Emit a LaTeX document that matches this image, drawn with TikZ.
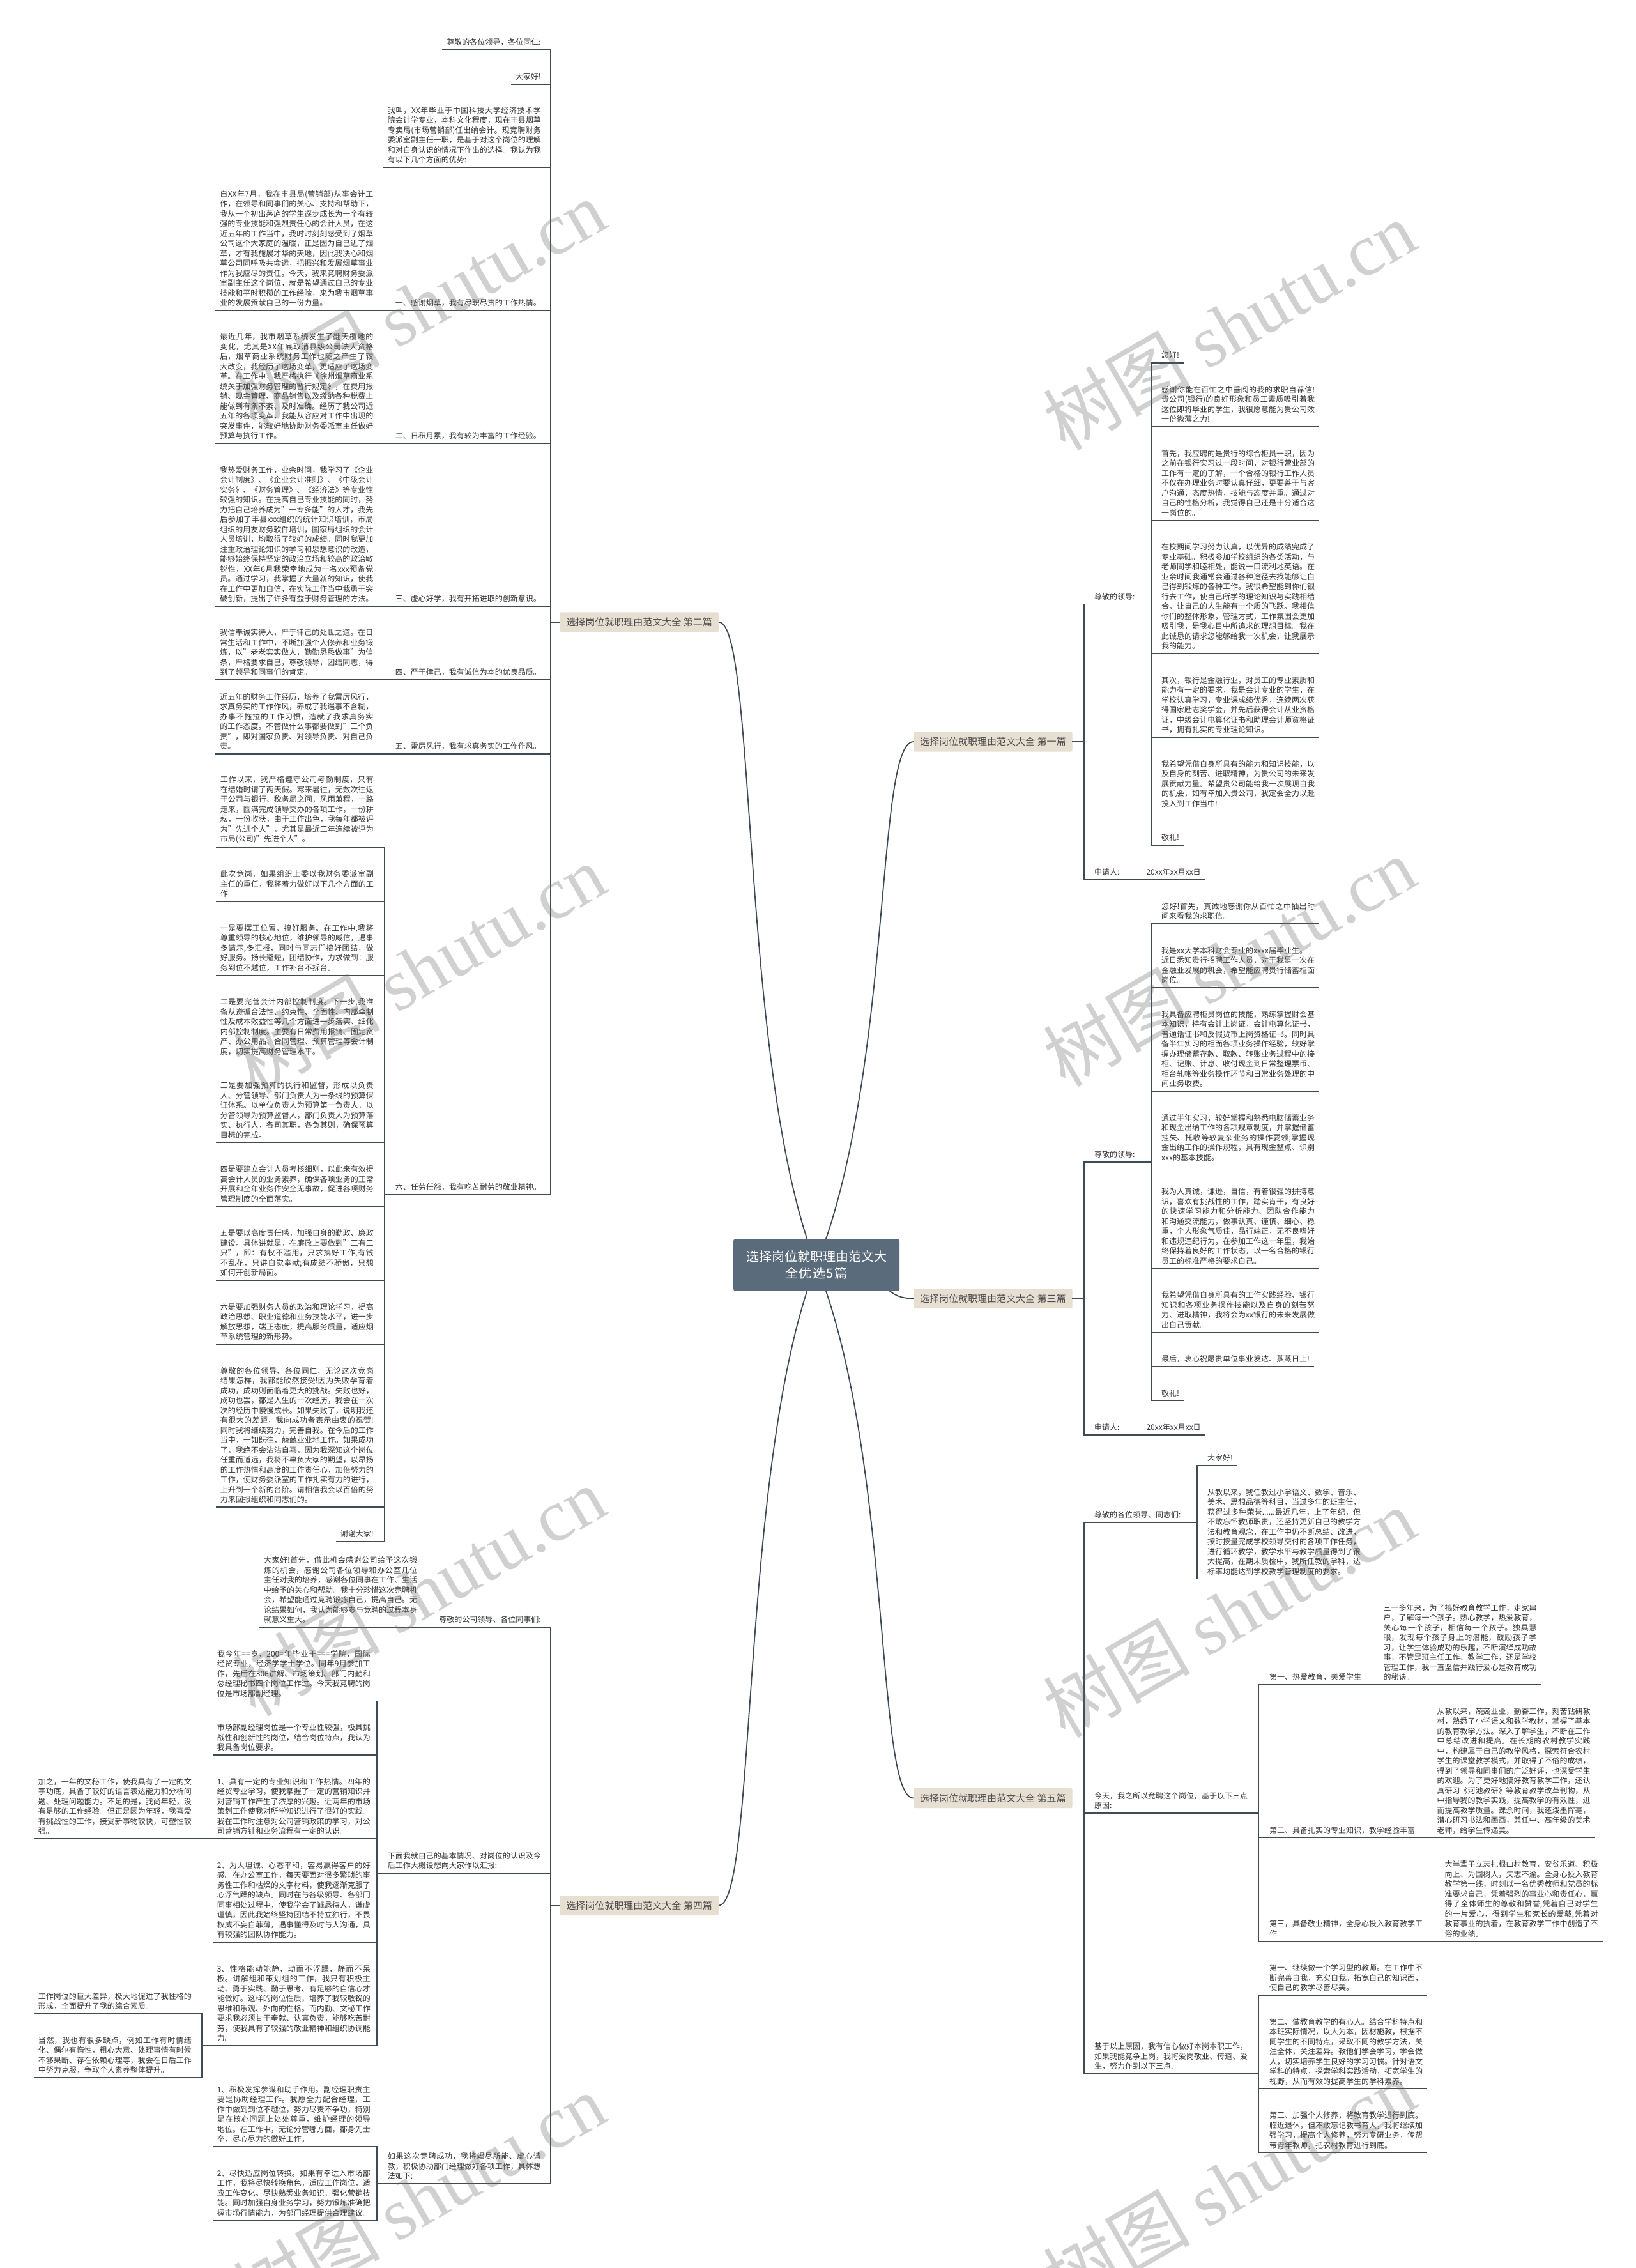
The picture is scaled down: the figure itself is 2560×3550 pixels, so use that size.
\documentclass[tikz,border=0pt]{standalone}
\usepackage{fontspec}
\setmainfont{Noto Sans CJK SC}
\newfontfamily\wmlatin{Liberation Serif}
\XeTeXlinebreaklocale "zh"
\XeTeXlinebreakskip=0pt plus 1pt
\usetikzlibrary{calc}
\definecolor{lnC}{HTML}{3E4A56}
\definecolor{txtC}{HTML}{333333}
\definecolor{brFill}{HTML}{E8DFD3}
\definecolor{brText}{HTML}{4D4D4D}
\definecolor{rootFill}{HTML}{5A6B7B}
\newcommand{\txtf}{\fontsize{12}{15.5}\selectfont}
\newcommand{\brf}{\fontsize{15}{18}\selectfont}
\newcommand{\rootf}{\fontsize{20}{26}\selectfont}
\newcommand{\wmf}{\fontsize{115}{115}\selectfont}

\begin{document}
\begin{tikzpicture}[x=1pt,y=-1pt,
  para/.style={inner xsep=6pt,inner ysep=6pt,text width=240pt,align=justify,font=\txtf,text=txtC},
  lbl/.style={inner xsep=6pt,inner ysep=6pt,font=\txtf,text=txtC},
  brn/.style={fill=brFill,text=brText,font=\brf,inner xsep=10pt,inner ysep=0pt,minimum height=31pt,rounded corners=2pt},
  root/.style={fill=rootFill,text=white,font=\rootf,text width=220pt,align=center,inner xsep=20pt,minimum height=81pt,rounded corners=3pt},
  uln/.style={draw=lnC,line width=1.6pt,line cap=rect},
  curve/.style={draw=lnC,line width=1.8pt},
  wmark/.style={rotate=30,text=black!60,opacity=0.3,font=\wmf}]
\fill[white] (0,0) rectangle (2560,3550);
\useasboundingbox (0,0) rectangle (2560,3550);

% columns of the connector lines
\coordinate (b2v) at (862,0);
\coordinate (b2w) at (602,0);
\coordinate (b4w) at (590,0);
\coordinate (b4x) at (316,0);
\coordinate (rv) at (1697,0);
\coordinate (b1w) at (1802,0);
\coordinate (b5w) at (1874,0);
\coordinate (b5x) at (1970,0);

% ---- 第二篇 (left, top)
\node[lbl,anchor=south east] (b2a) at (853,78) {尊敬的各位领导，各位同仁:};
\node[lbl,anchor=south east] (b2b) at (853,132) {大家好!};
\node[para,anchor=south east] (b2c) at (853,262) {我叫，XX年毕业于中国科技大学经济技术学院会计学专业，本科文化程度，现在丰县烟草专卖局(市场营销部)任出纳会计。现竞聘财务委派室副主任一职，是基于对这个岗位的理解和对自身认识的情况下作出的选择。我认为我有以下几个方面的优势:};
\node[lbl,anchor=south east] (b2d) at (853,486) {一、感谢烟草，我有尽职尽责的工作热情。};
\node[para,anchor=south east] (b2d1) at ([xshift=-22pt]b2d.south west) {自XX年7月，我在丰县局(营销部)从事会计工作，在领导和同事们的关心、支持和帮助下，我从一个初出茅庐的学生逐步成长为一个有较强的专业技能和强烈责任心的会计人员，在这近五年的工作当中，我时时刻刻感受到了烟草公司这个大家庭的温暖，正是因为自己进了烟草，才有我施展才华的天地，因此我决心和烟草公司同呼吸共命运，把振兴和发展烟草事业作为我应尽的责任。今天，我来竞聘财务委派室副主任这个岗位，就是希望通过自己的专业技能和平时积攒的工作经验，来为我市烟草事业的发展贡献自己的一份力量。};
\node[lbl,anchor=south east] (b2e) at (853,694) {二、日积月累，我有较为丰富的工作经验。};
\node[para,anchor=south east] (b2e1) at ([xshift=-22pt]b2e.south west) {最近几年，我市烟草系统发生了翻天覆地的变化，尤其是XX年底取消县级公司法人资格后，烟草商业系统财务工作也随之产生了较大改变，我经历了这场变革，更适应了这场变革。在工作中，我严格执行《徐州烟草商业系统关于加强财务管理的暂行规定》，在费用报销、现金管理、商品销售以及缴纳各种税费上能做到有条不紊、及时准确。经历了我公司近五年的各项变革，我能从容应对工作中出现的突发事件，能较好地协助财务委派室主任做好预算与执行工作。};
\node[lbl,anchor=south east] (b2f) at (853,949) {三、虚心好学，我有开拓进取的创新意识。};
\node[para,anchor=south east] (b2f1) at ([xshift=-22pt]b2f.south west) {我热爱财务工作，业余时间，我学习了《企业会计制度》、《企业会计准则》、《中级会计实务》、《财务管理》、《经济法》等专业性较强的知识。在提高自己专业技能的同时，努力把自己培养成为"一专多能"的人才，我先后参加了丰县xxx组织的统计知识培训，市局组织的用友财务软件培训，国家局组织的会计人员培训，均取得了较好的成绩。同时我更加注重政治理论知识的学习和思想意识的改造，能够始终保持坚定的政治立场和较高的政治敏锐性，XX年6月我荣幸地成为一名xxx预备党员。通过学习，我掌握了大量新的知识，使我在工作中更加自信，在实际工作当中我勇于突破创新，提出了许多有益于财务管理的方法。};
\node[lbl,anchor=south east] (b2g) at (853,1064) {四、严于律己，我有诚信为本的优良品质。};
\node[para,anchor=south east] (b2g1) at ([xshift=-22pt]b2g.south west) {我信奉诚实待人，严于律己的处世之道。在日常生活和工作中，不断加强个人修养和业务锻炼，以"老老实实做人，勤勤恳恳做事"为信条，严格要求自己，尊敬领导，团结同志，得到了领导和同事们的肯定。};
\node[lbl,anchor=south east] (b2h) at (853,1180) {五、雷厉风行，我有求真务实的工作作风。};
\node[para,anchor=south east] (b2h1) at ([xshift=-22pt]b2h.south west) {近五年的财务工作经历，培养了我雷厉风行，求真务实的工作作风，养成了我遇事不含糊，办事不拖拉的工作习惯，造就了我求真务实的工作态度。不管做什么事都要做到"三个负责"，即对国家负责、对领导负责、对自己负责。};
\node[lbl,anchor=south east] (b2i) at (853,1869.5) {六、任劳任怨，我有吃苦耐劳的敬业精神。};
\node[para,anchor=south east] (b2i1) at (591,1326.5) {工作以来，我严格遵守公司考勤制度，只有在结婚时请了两天假。寒来暑往，无数次往返于公司与银行、税务局之间，风雨兼程，一路走来，圆满完成领导交办的各项工作，一份耕耘，一份收获，由于工作出色，我每年都被评为"先进个人"，尤其是最近三年连续被评为市局(公司)"先进个人"。};
\node[para,anchor=south east] (b2i2) at (591,1411) {此次竞岗，如果组织上委以我财务委派室副主任的重任，我将着力做好以下几个方面的工作:};
\node[para,anchor=south east] (b2i3) at (591,1526.5) {一是要摆正位置，搞好服务。在工作中,我将尊重领导的核心地位，维护领导的威信，遇事多请示,多汇报，同时与同志们搞好团结，做好服务。扬长避短，团结协作，力求做到：服务到位不越位，工作补台不拆台。};
\node[para,anchor=south east] (b2i4) at (591,1657.5) {二是要完善会计内部控制制度。下一步,我准备从遵循合法性、约束性、全面性、内部牵制性及成本效益性等几个方面进一步落实、细化内部控制制度。主要有日常费用报销、固定资产、办公用品、合同管理、预算管理等会计制度，切实提高财务管理水平。};
\node[para,anchor=south east] (b2i5) at (591,1788.5) {三是要加强预算的执行和监督，形成以负责人、分管领导、部门负责人为一条线的预算保证体系。以单位负责人为预算第一负责人，以分管领导为预算监督人，部门负责人为预算落实、执行人，各司其职，各负其则，确保预算目标的完成。};
\node[para,anchor=south east] (b2i6) at (591,1888.5) {四是要建立会计人员考核细则，以此来有效提高会计人员的业务素养，确保各项业务的正常开展和全年业务作安全无事故，促进各项财务管理制度的全面落实。};
\node[para,anchor=south east] (b2i7) at (591,2004) {五是要以高度责任感，加强自身的勤政、廉政建设。具体讲就是，在廉政上要做到"三有三只"，即：有权不滥用，只求搞好工作;有钱不乱花，只讲自觉奉献;有成绩不骄傲，只想如何开创新局面。};
\node[para,anchor=south east] (b2i8) at (591,2104) {六是要加强财务人员的政治和理论学习，提高政治思想、职业道德和业务技能水平，进一步解放思想，端正态度，提高服务质量，适应烟草系统管理的新形势。};
\node[para,anchor=south east] (b2i9) at (591,2359) {尊敬的各位领导、各位同仁，无论这次竞岗结果怎样，我都能欣然接受!因为失败孕育着成功，成功则面临着更大的挑战。失败也好，成功也罢，都是人生的一次经历，我会在一次次的经历中慢慢成长。如果失败了，说明我还有很大的差距，我向成功者表示由衷的祝贺!同时我将继续努力，完善自我。在今后的工作当中，一如既往，兢兢业业地工作。如果成功了，我绝不会沾沾自喜，因为我深知这个岗位任重而道远，我将不辜负大家的期望，以昂扬的工作热情和高度的工作责任心，加倍努力的工作，使财务委派室的工作扎实有力的进行，上升到一个新的台阶。请相信我会以百倍的努力来回报组织和同志们的。};
\node[lbl,anchor=south east] (b2i10) at (591,2412.5) {谢谢大家!};
\foreach \n in {b2a,b2b,b2c} \draw[uln] (\n.south west) -- (\n.south -| b2v);
\foreach \n in {b2d,b2e,b2f,b2g,b2h} \draw[uln] (\n1.south west) -- (\n.south -| b2v);
\foreach \i in {1,...,10} \draw[uln] (b2i\i.south west) -- (b2i\i.south -| b2w);
\draw[uln] (b2i1.south -| b2w) -- (b2i10.south -| b2w);
\draw[uln] (b2i.south -| b2w) -- (b2i.south -| b2v);
\draw[uln] (b2a.south -| b2v) -- (b2i.south -| b2v);
\node[brn,anchor=east] (b2) at (1125,973.75) {选择岗位就职理由范文大全 第二篇};
\draw[uln] (b2.west) -- (b2.west -| b2v);

% ---- 第四篇 (left, bottom)
\node[lbl,anchor=south east] (b4a) at (853,2547) {尊敬的公司领导、各位同事们:};
\node[para,anchor=south east] (b4a1) at ([xshift=-22pt]b4a.south west) {大家好!首先，借此机会感谢公司给予这次锻炼的机会，感谢公司各位领导和办公室几位主任对我的培养，感谢各位同事在工作、生活中给予的关心和帮助。我十分珍惜这次竞聘机会，希望能通过竞聘锻炼自己，提高自己。无论结果如何，我认为能够参与竞聘的过程本身就意义重大。};
\node[para,anchor=south east] (b4b) at (853,2932) {下面我就自己的基本情况、对岗位的认识及今后工作大概设想向大家作以汇报:};
\node[para,anchor=south east] (b4b1) at (586,2662.5) {我今年==岁，200=年毕业于===学院，国际经贸专业，经济学学士学位。同年9月参加工作，先后在306讲解、市场策划、部门内勤和总经理秘书四个岗位工作过。今天我竞聘的岗位是市场部副经理。};
\node[para,anchor=south east] (b4b2) at (586,2747) {市场部副经理岗位是一个专业性较强，极具挑战性和创新性的岗位，结合岗位特点，我认为我具备岗位要求。};
\node[para,anchor=south east] (b4b3) at (586,2878) {1、具有一定的专业知识和工作热情。四年的经贸专业学习，使我掌握了一定的营销知识并对营销工作产生了浓厚的兴趣。近两年的市场策划工作使我对所学知识进行了很好的实践。我在工作时注意对公司营销政策的学习，对公司营销方针和业务流程有一定的认识。};
\node[para,anchor=south east] (b4b3a) at (306,2878) {加之，一年的文秘工作，使我具有了一定的文字功底，具备了较好的语言表达能力和分析问题、处理问题能力。不足的是，我尚年轻，没有足够的工作经验。但正是因为年轻，我喜爱有挑战性的工作，接受新事物较快，可塑性较强。};
\node[para,anchor=south east] (b4b4) at (586,3040) {2、为人坦诚、心态平和，容易赢得客户的好感。在办公室工作，每天要面对很多繁琐的事务性工作和枯燥的文字材料，使我逐渐克服了心浮气躁的缺点。同时在与各级领导、各部门同事相处过程中，使我学会了诚恳待人，谦虚谨慎，因此我始终坚持团结不特立独行，不畏权威不妄自菲薄，遇事懂得及时与人沟通，具有较强的团队协作能力。};
\node[para,anchor=south east] (b4b5) at (586,3202) {3、性格能动能静，动而不浮躁，静而不呆板。讲解组和策划组的工作，我只有积极主动、勇于实践、勤于思考、有足够的自信心才能做好。这样的岗位性质，培养了我较敏锐的思维和乐观、外向的性格。而内勤、文秘工作要求我必须甘于奉献、认真负责，能够吃苦耐劳，使我具有了较强的敬业精神和组织协调能力。};
\node[para,anchor=south east] (b4b5a) at (306,3152) {工作岗位的巨大差异，极大地促进了我性格的形成，全面提升了我的综合素质。};
\node[para,anchor=south east] (b4b5b) at (306,3252) {当然，我也有很多缺点，例如工作有时情绪化、偶尔有惰性，粗心大意、处理事情有时候不够果断、存在依赖心理等，我会在日后工作中努力克服，争取个人素养整体提升。};
\node[para,anchor=south east] (b4c) at (853,3418) {如果这次竞聘成功，我将竭尽所能、虚心请教，积极协助部门经理做好各项工作，具体想法如下:};
\node[para,anchor=south east] (b4c1) at (586,3360) {1、积极发挥参谋和助手作用。副经理职责主要是协助经理工作。我愿全力配合经理，工作中做到到位不越位，努力尽责不争功，特别是在核心问题上处处尊重，维护经理的领导地位。在工作中，无论分管哪方面，都身先士卒，尽心尽力的做好工作。};
\node[para,anchor=south east] (b4c2) at (586,3475.5) {2、尽快适应岗位转换。如果有幸进入市场部工作，我将尽快转换角色，适应工作岗位，适应工作变化。尽快熟悉业务知识，强化营销技能。同时加强自身业务学习，努力锻炼准确把握市场行情能力，为部门经理提供合理建议。};
\draw[uln] (b4a1.south west) -- (b4a.south -| b2v);
\foreach \n in {b4b1,b4b2,b4b4,b4c1,b4c2} \draw[uln] (\n.south west) -- (\n.south -| b4w);
\draw[uln] (b4b3a.south west) -- (b4b3.south -| b4w);
\draw[uln] (b4b5.south -| b4x) -- (b4b5.south -| b4w);
\foreach \n in {b4b5a,b4b5b} \draw[uln] (\n.south west) -- (\n.south -| b4x);
\draw[uln] (b4b5a.south -| b4x) -- (b4b5b.south -| b4x);
\draw[uln] (b4b1.south -| b4w) -- (b4b5.south -| b4w);
\draw[uln] (b4c1.south -| b4w) -- (b4c2.south -| b4w);
\draw[uln] (b4b.south -| b4w) -- (b4b.south -| b2v);
\draw[uln] (b4c.south -| b4w) -- (b4c.south -| b2v);
\draw[uln] (b4a.south -| b2v) -- (b4c.south -| b2v);
\node[brn,anchor=east] (b4) at (1125,2982.5) {选择岗位就职理由范文大全 第四篇};
\draw[uln] (b4.west) -- (b4.west -| b2v);

% ---- 第一篇 (right, top)
\node[lbl,anchor=south west] (b1a) at (1707,945.5) {尊敬的领导:};
\node[lbl,anchor=south west] (b1a1) at (1812,568) {您好!};
\node[para,anchor=south west] (b1a2) at (1812,668) {感谢你能在百忙之中垂阅的我的求职自荐信!贵公司(银行)的良好形象和员工素质吸引着我这位即将毕业的学生，我很愿意能为贵公司效一份微薄之力!};
\node[para,anchor=south west] (b1a3) at (1812,814.5) {首先，我应聘的是贵行的综合柜员一职，因为之前在银行实习过一段时间，对银行营业部的工作有一定的了解，一个合格的银行工作人员不仅在办理业务时要认真仔细，更要善于与客户沟通，态度热情，技能与态度并重。通过对自己的性格分析，我觉得自己还是十分适合这一岗位的。};
\node[para,anchor=south west] (b1a4) at (1812,1023) {在校期间学习努力认真，以优异的成绩完成了专业基础。积极参加学校组织的各类活动，与老师同学和睦相处，能说一口流利地英语。在业余时间我通常会通过各种途径去找能够让自己得到锻炼的各种工作。我很希望能到你们银行去工作，使自己所学的理论知识与实践相结合，让自己的人生能有一个质的飞跃。我相信你们的整体形象，管理方式，工作氛围会更加吸引我，是我心目中所追求的理想目标。我在此诚恳的请求您能够给我一次机会，让我展示我的能力。};
\node[para,anchor=south west] (b1a5) at (1812,1154) {其次，银行是金融行业，对员工的专业素质和能力有一定的要求，我是会计专业的学生，在学校认真学习，专业课成绩优秀，连续两次获得国家励志奖学金，并先后获得会计从业资格证，中级会计电算化证书和助理会计师资格证书，拥有扎实的专业理论知识。};
\node[para,anchor=south west] (b1a6) at (1812,1269.5) {我希望凭借自身所具有的能力和知识技能，以及自身的刻苦、进取精神，为贵公司的未来发展贡献力量。希望贵公司能给我一次展现自我的机会，如有幸加入贵公司，我定会全力以赴投入到工作当中!};
\node[lbl,anchor=south west] (b1a7) at (1812,1323) {敬礼!};
\node[lbl,anchor=south west] (b1z) at (1707,1376.5) {申请人:\hspace{42pt}20xx年xx月xx日};
\foreach \i in {1,...,7} \draw[uln] (b1a\i.south -| b1w) -- (b1a\i.south east);
\draw[uln] (b1a1.south -| b1w) -- (b1a7.south -| b1w);
\draw[uln] (b1a.south -| rv) -- (b1a.south -| b1w);
\draw[uln] (b1z.south -| rv) -- (b1z.south east);
\draw[uln] (b1a.south -| rv) -- (b1z.south -| rv);
\node[brn,anchor=west] (b1) at (1430,1161) {选择岗位就职理由范文大全 第一篇};
\draw[uln] (b1.east) -- (b1.east -| rv);

% ---- 第三篇 (right, middle)
\node[lbl,anchor=south west] (b3a) at (1707,1819) {尊敬的领导:};
\node[para,anchor=south west] (b3a1) at (1812,1446) {您好!首先，真诚地感谢你从百忙之中抽出时间来看我的求职信。};
\node[para,anchor=south west] (b3a2) at (1812,1546) {我是xx大学本科财会专业的xxxx届毕业生。\\近日悉知贵行招聘工作人员，对于我是一次在金融业发展的机会，希望能应聘贵行储蓄柜面岗位。};
\node[para,anchor=south west] (b3a3) at (1812,1708) {我具备应聘柜员岗位的技能，熟练掌握财会基本知识，持有会计上岗证，会计电算化证书，普通话证书和反假货币上岗资格证书。同时具备半年实习的柜面各项业务操作经验，较好掌握办理储蓄存款、取款、转账业务过程中的接柜、记账、计息、收付现金到日常整理票币、柜台轧帐等业务操作环节和日常业务处理的中间业务收费。};
\node[para,anchor=south west] (b3a4) at (1812,1823.5) {通过半年实习，较好掌握和熟悉电脑储蓄业务和现金出纳工作的各项规章制度，并掌握储蓄挂失、托收等较复杂业务的操作要领;掌握现金出纳工作的操作规程，具有现金整点、识别xxx的基本技能。};
\node[para,anchor=south west] (b3a5) at (1812,1985.5) {我为人真诚，谦逊，自信，有着很强的拼搏意识，喜欢有挑战性的工作，踏实肯干，有良好的快速学习能力和分析能力、团队合作能力和沟通交流能力，做事认真、谨慎、细心、稳重，个人形象气质佳，品行端正，无不良嗜好和违规违纪行为，在参加工作这一年里，我始终保持着良好的工作状态，以一名合格的银行员工的标准严格的要求自己。};
\node[para,anchor=south west] (b3a6) at (1812,2085.5) {我希望凭借自身所具有的工作实践经验、银行知识和各项业务操作技能以及自身的刻苦努力、进取精神，我将会为xx银行的未来发展做出自己贡献。};
\node[lbl,anchor=south west] (b3a7) at (1812,2139) {最后，衷心祝愿贵单位事业发达、蒸蒸日上!};
\node[lbl,anchor=south west] (b3a8) at (1812,2192.5) {敬礼!};
\node[lbl,anchor=south west] (b3z) at (1707,2246) {申请人:\hspace{42pt}20xx年xx月xx日};
\foreach \i in {1,...,8} \draw[uln] (b3a\i.south -| b1w) -- (b3a\i.south east);
\draw[uln] (b3a1.south -| b1w) -- (b3a8.south -| b1w);
\draw[uln] (b3a.south -| rv) -- (b3a.south -| b1w);
\draw[uln] (b3z.south -| rv) -- (b3z.south east);
\draw[uln] (b3a.south -| rv) -- (b3z.south -| rv);
\node[brn,anchor=west] (b3) at (1430,2032.5) {选择岗位就职理由范文大全 第三篇};
\draw[uln] (b3.east) -- (b3.east -| rv);

% ---- 第五篇 (right, bottom)
\node[lbl,anchor=south west] (b5a) at (1707,2382.75) {尊敬的各位领导、同志们:};
\node[lbl,anchor=south west] (b5a1) at (1884,2294) {大家好!};
\node[para,anchor=south west] (b5a2) at (1884,2471.5) {从教以来，我任教过小学语文、数学、音乐、美术、思想品德等科目，当过多年的班主任，获得过多种荣誉......最近几年，上了年纪，但不敢忘怀教师职责，还坚持更新自己的教学方法和教育观念，在工作中仍不断总结、改进，按时按量完成学校领导交付的各项工作任务，进行循环教学，教学水平与教学质量得到了很大提高，在期末质检中，我所任教的学科，达标率均能达到学校教学管理制度的要求。};
\node[para,anchor=south west] (b5b) at (1707,2837.75) {今天，我之所以竞聘这个岗位，基于以下三点原因:};
\node[lbl,anchor=south west] (b5b1) at (1981,2637) {第一、热爱教育，关爱学生};
\node[para,anchor=south west] (b5d1) at ([xshift=22pt]b5b1.south east) {三十多年来，为了搞好教育教学工作，走家串户，了解每一个孩子。热心教学，热爱教育，关心每一个孩子，相信每一个孩子。独具慧眼，发现每个孩子身上的潜能，鼓励孩子学习，让学生体验成功的乐趣，不断演绎成功故事，不管是班主任工作、教学工作，还是学校 管理工作，我一直坚信并践行爱心是教育成功的秘诀。};
\node[lbl,anchor=south west] (b5b2) at (1981,2876.5) {第二、具备扎实的专业知识，教学经验丰富};
\node[para,anchor=south west] (b5d2) at ([xshift=22pt]b5b2.south east) {从教以来，兢兢业业，勤奋工作，刻苦钻研教材，熟悉了小学语文和数学教材，掌握了基本的教育教学方法。深入了解学生，不断在工作中总结改进和提高。在长期的农村教学实践中，构建属于自己的教学风格，探索符合农村学生的课堂教学模式，并取得了不俗的成绩，得到了领导和同事们的广泛好评，也深受学生的欢迎。为了更好地搞好教育教学工作，还认真研习《河池教研》等教育教学改革刊物，从中指导我的教学实践，提高教学的有效性，进而提高教学质量。课余时间，我还泼墨挥毫，潜心研习书法和画画，兼任中、高年级的美术老师，给学生传递美。};
\node[para,anchor=south west] (b5b3) at (1981,3038.5) {第三，具备敬业精神，全身心投入教育教学工作};
\node[para,anchor=south west] (b5d3) at ([xshift=22pt]b5b3.south east) {大半辈子立志扎根山村教育，安贫乐道、积极向上、为国树人，矢志不渝。全身心投入教育教学第一线，时刻以一名优秀教师和党员的标准要求自己，凭着强烈的事业心和责任心，赢得了全体师生的尊敬和赞誉;凭着自己对学生的一片爱心，得到学生和家长的爱戴;凭着对教育事业的执着，在教育教学工作中创造了不俗的业绩。};
\node[para,anchor=south west] (b5c) at (1707,3246.25) {基于以上原因，我有信心做好本岗本职工作，如果我能竞争上岗，我将爱岗敬业、传道、爱生，努力作到以下三点:};
\node[para,anchor=south west] (b5c1) at (1981,3123) {第一、继续做一个学习型的教师。在工作中不断完善自我，充实自我。拓宽自己的知识面，使自己的教学尽善尽美。};
\node[para,anchor=south west] (b5c2) at (1981,3269.5) {第二、做教育教学的有心人。结合学科特点和本班实际情况，以人为本，因材施教，根据不同学生的不同特点，采取不同的教学方法，关注全体，关注差异。教他们学会学习，学会做人，切实培养学生良好的学习习惯。针对语文学科的特点，探索学科实践活动，拓宽学生的视野，从而有效的提高学生的学科素养。};
\node[para,anchor=south west] (b5c3) at (1981,3369.5) {第三、加强个人修养，将教育教学进行到底。临近退休，但不敢忘记教书育人，我将继续加强学习，提高个人修养，努力专研业务，传帮带青年教师，把农村教育进行到底。};
\foreach \i in {1,2} \draw[uln] (b5a\i.south -| b5w) -- (b5a\i.south east);
\draw[uln] (b5a1.south -| b5w) -- (b5a2.south -| b5w);
\draw[uln] (b5a.south -| rv) -- (b5a.south -| b5w);
\foreach \i in {1,2,3} \draw[uln] (b5b\i.south -| b5x) -- (b5d\i.south east);
\draw[uln] (b5b1.south -| b5x) -- (b5b3.south -| b5x);
\draw[uln] (b5b.south -| rv) -- (b5b.south -| b5x);
\foreach \i in {1,2,3} \draw[uln] (b5c\i.south -| b5x) -- (b5c\i.south east);
\draw[uln] (b5c1.south -| b5x) -- (b5c3.south -| b5x);
\draw[uln] (b5c.south -| rv) -- (b5c.south -| b5x);
\draw[uln] (b5a.south -| rv) -- (b5c.south -| rv);
\node[brn,anchor=west] (b5) at (1430,2814.5) {选择岗位就职理由范文大全 第五篇};
\draw[uln] (b5.east) -- (b5.east -| rv);

% ---- centre and its curves
\coordinate (rc) at (1278,1980);
\draw[curve] (rc) .. controls +(-120,-300) and +(60,0) .. (b2.east);
\draw[curve] (rc) .. controls +(-120,300) and +(60,0) .. (b4.east);
\draw[curve] (rc) .. controls +(120,-300) and +(-60,0) .. (b1.west);
\draw[curve] (rc) .. controls +(120,0) and +(-60,0) .. (b3.west);
\draw[curve] (rc) .. controls +(120,300) and +(-60,0) .. (b5.west);
\node[root] (root) at (rc) {选择岗位就职理由范文大\\全优选5篇};

% watermark
\foreach \wx/\wy in {656/476,1924/509,656/1516,1924/1505,656/2490,1924/2524,656/3440,1924/3418}
  \node[wmark] at (\wx,\wy) {树图 {\wmlatin shutu.cn}};
\end{tikzpicture}
\end{document}
